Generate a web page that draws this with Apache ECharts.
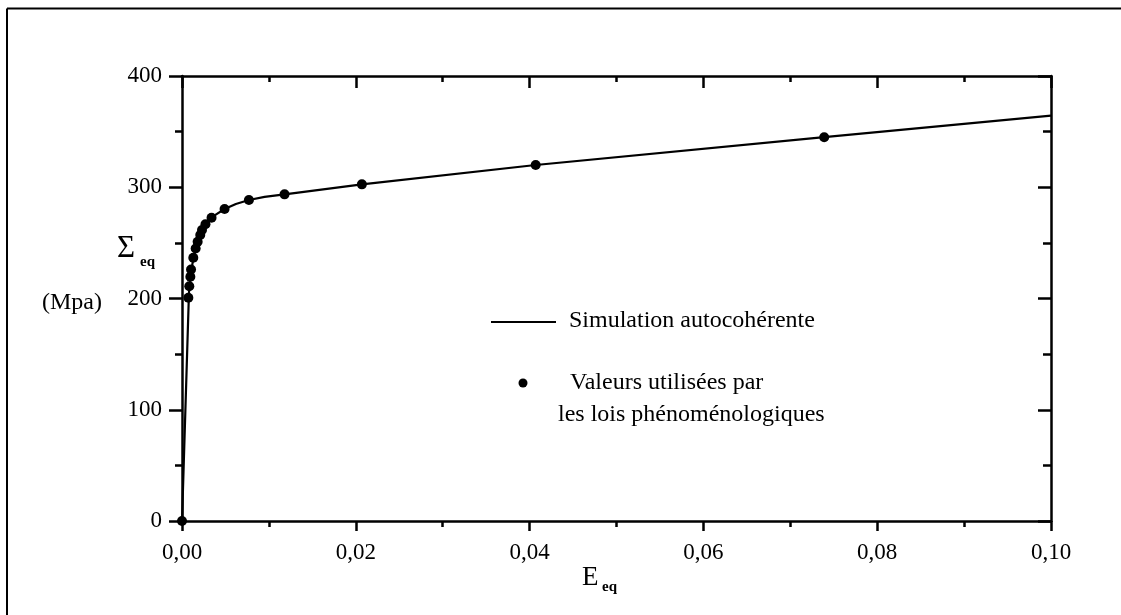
<!DOCTYPE html>
<html><head><meta charset="utf-8">
<script src="https://cdn.jsdelivr.net/npm/echarts@6/dist/echarts.min.js"></script>
<style>html,body{margin:0;padding:0;background:#fff}#c{width:1121px;height:615px}</style>
</head><body><div id="c"></div>
<script>
// Tick labels
const xTickLabels = ['0,00', '0,02', '0,04', '0,06', '0,08', '0,10'];
const yTickLabels = ['0', '100', '200', '300', '400'];

// "Valeurs utilisées par les lois phénoménologiques" (dots)
const dotsX = [0, 0.00073, 0.00084, 0.00096, 0.00104, 0.0013, 0.00157, 0.0018, 0.0021, 0.0023, 0.0027, 0.0034, 0.0049, 0.0077, 0.0118, 0.0207, 0.0407, 0.0739];
const dotsY = [0, 200.7, 211, 219.6, 226, 236.7, 245, 251, 257, 261.6, 266.7, 272.6, 280.4, 288.5, 293.6, 302.6, 320, 345];

// "Simulation autocohérente" (line)
const lineX = [0, 0.0008, 0.0010, 0.0013, 0.0016, 0.0020, 0.0025, 0.0030, 0.0038, 0.0049, 0.0062, 0.0077, 0.0095, 0.0118, 0.0207, 0.0407, 0.0739, 0.1];
const lineY = [0, 205, 221, 236, 245, 254, 263, 269, 275, 280.4, 285, 288.5, 291.3, 293.6, 302.6, 320, 345, 364.3];

const FONT = '"Liberation Serif", "DejaVu Serif", serif';
const chart = echarts.init(document.getElementById('c'), null, {renderer: 'canvas'});

const axisLine = {show: true, onZero: false, lineStyle: {color: '#000', width: 2.5}};
const xBase = {type: 'value', min: 0, max: 0.1, interval: 0.02, splitLine: {show: false}, axisLine: axisLine};
const yBase = {type: 'value', min: 0, max: 400, interval: 100, splitLine: {show: false}, axisLine: axisLine};
const tickStyle = {color: '#000', width: 2.5};

chart.setOption({
  animation: false,
  backgroundColor: '#fff',
  grid: {left: 182, top: 76, right: 70, bottom: 94, containLabel: false},
  xAxis: [
    Object.assign({}, xBase, {
      position: 'bottom',
      axisTick: {show: true, inside: false, length: 10, lineStyle: tickStyle},
      minorTick: {show: true, splitNumber: 2, length: 6, lineStyle: tickStyle},
      axisLabel: {
        margin: 20, color: '#000', fontFamily: FONT, fontSize: 23,
        formatter: v => xTickLabels[Math.round(v / 0.02)]
      }
    }),
    Object.assign({}, xBase, {
      position: 'top',
      axisTick: {show: true, inside: true, length: 12, lineStyle: tickStyle},
      minorTick: {show: true, splitNumber: 2, length: 6, lineStyle: tickStyle},
      axisLabel: {show: false}
    })
  ],
  yAxis: [
    Object.assign({}, yBase, {
      position: 'left',
      axisTick: {show: true, inside: false, length: 13, lineStyle: tickStyle},
      minorTick: {show: true, splitNumber: 2, length: 7, lineStyle: tickStyle},
      axisLabel: {
        margin: 20, color: '#000', fontFamily: FONT, fontSize: 23,
        formatter: v => yTickLabels[Math.round(v / 100)]
      }
    }),
    Object.assign({}, yBase, {
      position: 'right',
      axisTick: {show: true, inside: true, length: 13, lineStyle: tickStyle},
      minorTick: {show: true, splitNumber: 2, length: 8, lineStyle: tickStyle},
      axisLabel: {show: false}
    })
  ],
  series: [
    {
      name: 'Simulation autocohérente',
      type: 'line',
      xAxisIndex: 0, yAxisIndex: 0,
      data: lineX.map((x, i) => [x, lineY[i]]),
      showSymbol: false,
      smooth: false,
      lineStyle: {color: '#000', width: 2.2},
      z: 3
    },
    {
      name: 'Valeurs utilisées par les lois phénoménologiques',
      type: 'scatter',
      xAxisIndex: 0, yAxisIndex: 0,
      data: dotsX.map((x, i) => [x, dotsY[i]]),
      symbol: 'circle',
      symbolSize: 10,
      itemStyle: {color: '#000', opacity: 1},
      z: 4
    }
  ],
  graphic: [
    // outer frame (top and left edges)
    {type: 'line', shape: {x1: 7, y1: 8.5, x2: 1121, y2: 8.5}, style: {stroke: '#000', lineWidth: 2}},
    {type: 'line', shape: {x1: 7, y1: 8.5, x2: 7, y2: 615}, style: {stroke: '#000', lineWidth: 2}},
    // axis titles
    {type: 'text', left: 117, top: 233, style: {text: 'Σ', font: '31px ' + FONT, fill: '#000'}},
    {type: 'text', left: 140, top: 255, style: {text: 'eq', font: 'bold 15px ' + FONT, fill: '#000'}},
    {type: 'text', left: 42, top: 291, style: {text: '(Mpa)', font: '24px ' + FONT, fill: '#000'}},
    {type: 'text', left: 582, top: 564, style: {text: 'E', font: '27px ' + FONT, fill: '#000'}},
    {type: 'text', left: 602, top: 580, style: {text: 'eq', font: 'bold 15px ' + FONT, fill: '#000'}},
    // legend
    {type: 'line', shape: {x1: 491, y1: 322, x2: 556, y2: 322}, style: {stroke: '#000', lineWidth: 2}},
    {type: 'text', left: 569, top: 309, style: {text: 'Simulation autocohérente', font: '24px ' + FONT, fill: '#000'}},
    {type: 'circle', shape: {cx: 523, cy: 383, r: 4.5}, style: {fill: '#000'}},
    {type: 'text', left: 570, top: 371, style: {text: 'Valeurs utilisées par', font: '24px ' + FONT, fill: '#000'}},
    {type: 'text', left: 558, top: 403, style: {text: 'les lois phénoménologiques', font: '24px ' + FONT, fill: '#000'}}
  ]
});
</script>
</body></html>
